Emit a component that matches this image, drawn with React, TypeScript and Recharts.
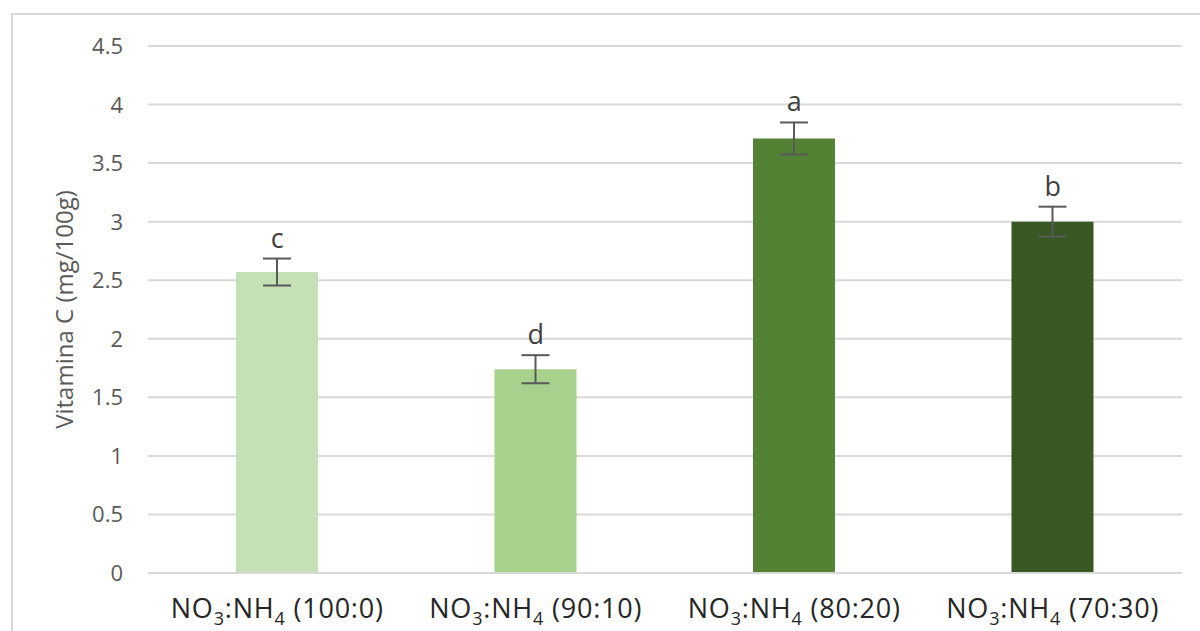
import React from "react"
import {
  ComposedChart,
  Bar,
  Line,
  Cell,
  ErrorBar,
  LabelList,
  XAxis,
  YAxis,
  CartesianGrid,
} from "recharts"

// Rapporti NO3:NH4
const ratios = ["100:0", "90:10", "80:20", "70:30"]
const vitaminC = [2.57, 1.74, 3.71, 3.0]
const stdErr = [0.115, 0.12, 0.137, 0.128]
const letters = ["c", "d", "a", "b"]
const barColors = ["#C5E0B4", "#A9D18E", "#548235", "#385723"]
const yTicks = [0, 0.5, 1, 1.5, 2, 2.5, 3, 3.5, 4, 4.5]

const FONT = "'Open Sans', 'Liberation Sans', sans-serif"

const chartData = ratios.map((r, i) => ({
  ratio: r,
  value: vitaminC[i],
  err: stdErr[i],
  top: vitaminC[i] + stdErr[i],
  letter: letters[i],
}))

function RatioTick(props: any) {
  const { x, y, payload } = props
  return (
    <text
      x={x}
      y={y + 37}
      textAnchor="middle"
      fill="#262626"
      style={{ fontSize: 27, fontFamily: FONT, letterSpacing: 0.8 }}
    >
      <tspan>NO</tspan>
      <tspan style={{ fontSize: 18 }} dy={7}>3</tspan>
      <tspan dy={-7}>:NH</tspan>
      <tspan style={{ fontSize: 18 }} dy={7}>4</tspan>
      <tspan dy={-7}>{" (" + payload.value + ")"}</tspan>
    </text>
  )
}

function ValueTick(props: any) {
  const { x, y, payload } = props
  return (
    <text
      x={x}
      y={y}
      dy={8}
      textAnchor="end"
      fill="#595959"
      style={{ fontSize: 22, fontFamily: FONT }}
    >
      {payload.value}
    </text>
  )
}

function LetterLabel(props: any) {
  const { x, y, value } = props
  return (
    <text
      x={x}
      y={y - 11}
      textAnchor="middle"
      fill="#404040"
      style={{ fontSize: 27, fontFamily: FONT }}
    >
      {value}
    </text>
  )
}

export default function App() {
  return (
    <div style={{ position: "absolute", left: 0, top: 0, width: 1200, height: 631, overflow: "hidden", background: "#fff" }}>
      <div
        style={{
          position: "absolute",
          left: 11,
          top: 13,
          width: 1300,
          height: 700,
          border: "2px solid #d9d9d9",
        }}
      />
      <div style={{ position: "absolute", left: 0, top: 0 }}>
        <ComposedChart
          width={1200}
          height={631}
          data={chartData}
          margin={{ top: 46, right: 18, left: 0, bottom: 0 }}
        >
          <CartesianGrid vertical={false} stroke="#d9d9d9" strokeWidth={2} />
          <XAxis
            dataKey="ratio"
            height={58}
            axisLine={{ stroke: "#d9d9d9", strokeWidth: 2 }}
            tickLine={false}
            tick={<RatioTick />}
            interval={0}
          />
          <YAxis
            width={148}
            domain={[0, 4.5]}
            ticks={yTicks}
            axisLine={false}
            tickLine={false}
            tickMargin={19}
            tick={<ValueTick />}
            label={{
              value: "Vitamina C (mg/100g)",
              angle: -90,
              position: "center",
              dx: -10,
              fill: "#595959",
              style: { fontSize: 24, fontFamily: FONT },
            }}
          />
          <Bar dataKey="value" barSize={82} isAnimationActive={false}>
            {chartData.map((d, i) => (
              <Cell key={d.ratio} fill={barColors[i]} />
            ))}
            <ErrorBar dataKey="err" width={14} strokeWidth={2} stroke="#595959" direction="y" isAnimationActive={false} />
          </Bar>
          <Line
            dataKey="top"
            stroke="none"
            dot={false}
            activeDot={false}
            isAnimationActive={false}
          >
            <LabelList dataKey="letter" content={<LetterLabel />} />
          </Line>
        </ComposedChart>
      </div>
    </div>
  )
}
